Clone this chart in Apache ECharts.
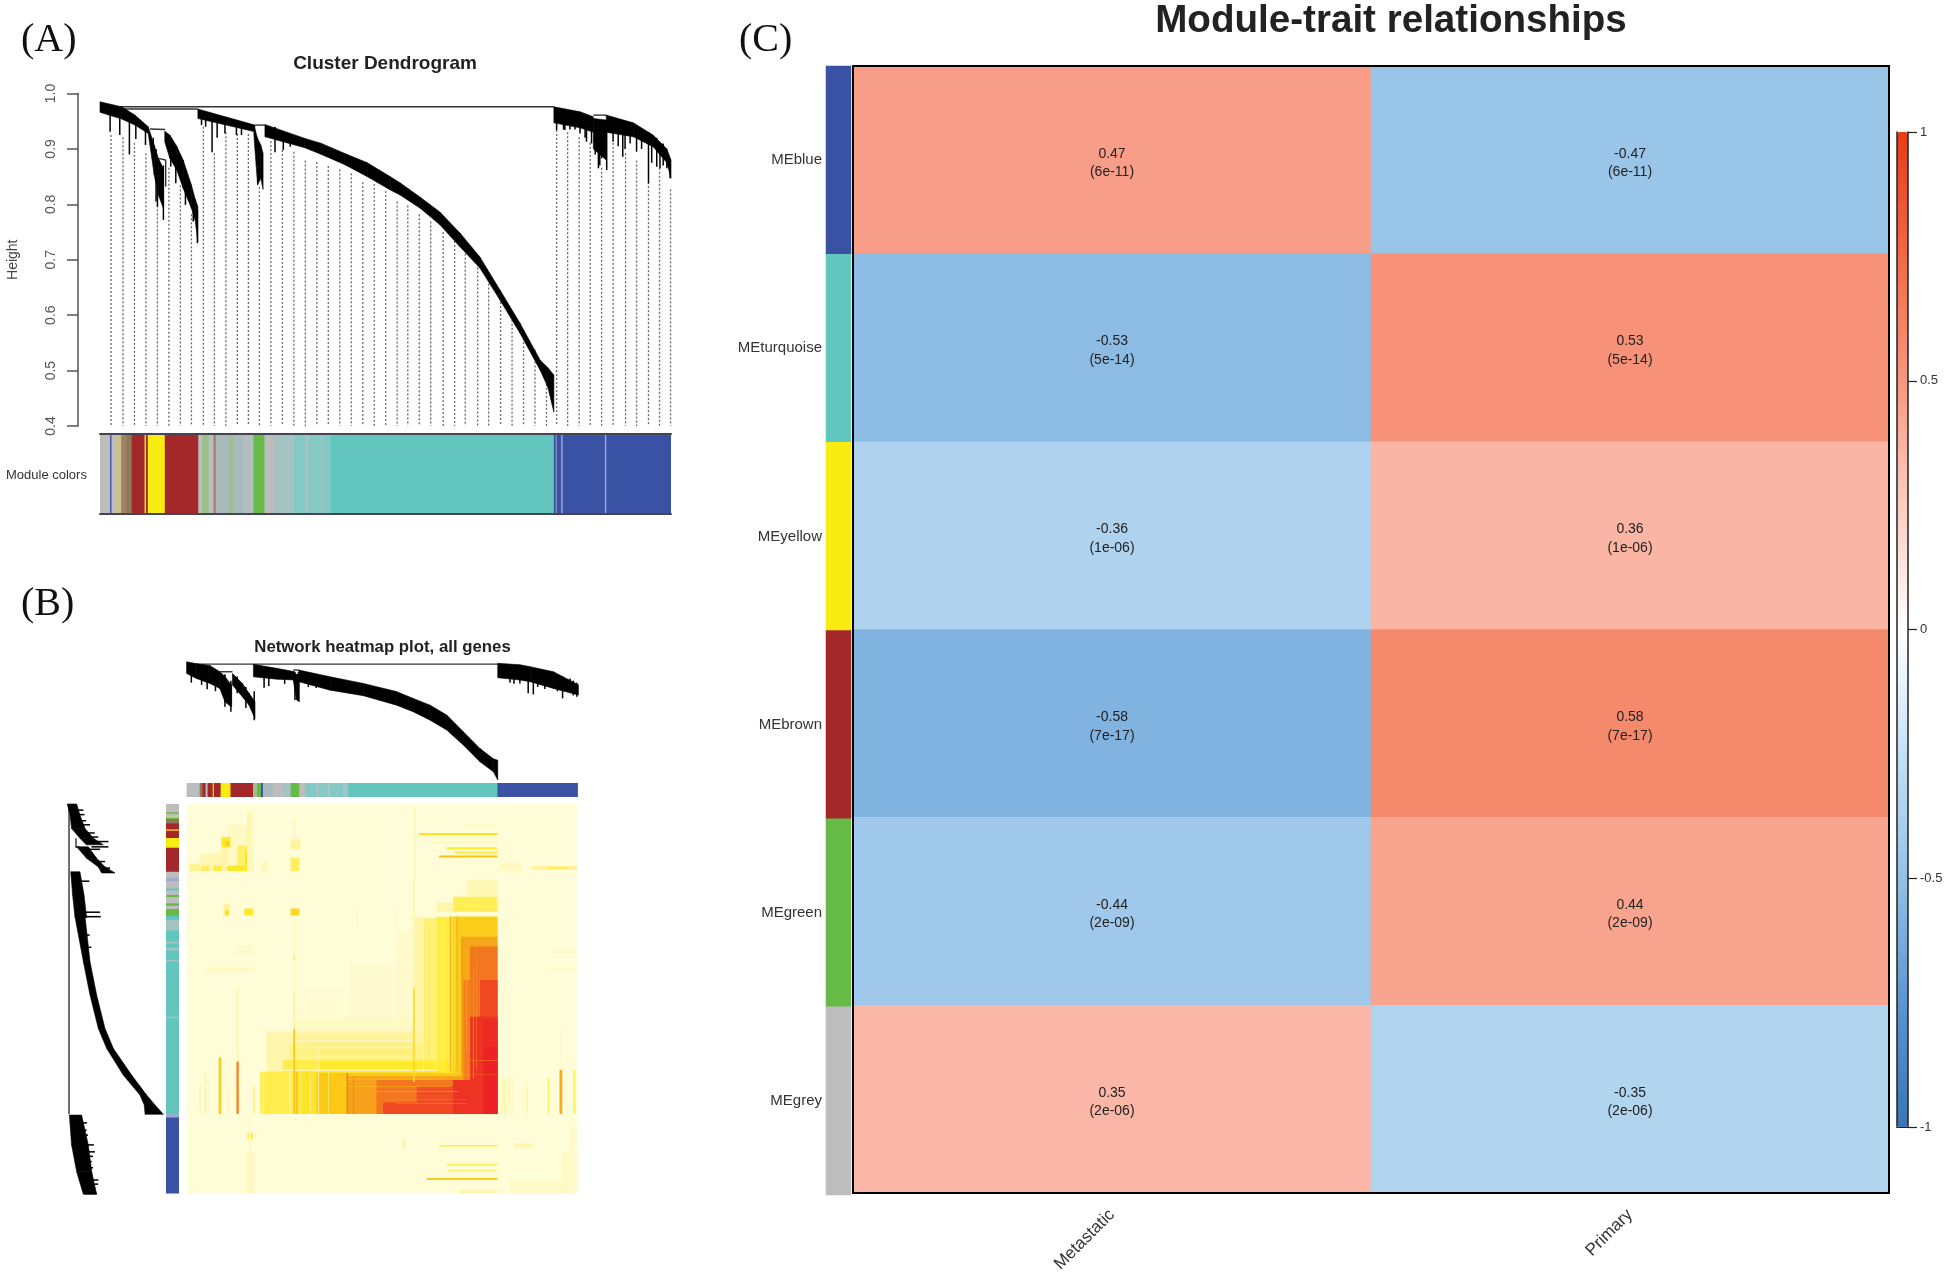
<!DOCTYPE html>
<html><head><meta charset="utf-8">
<style>html,body{margin:0;padding:0;background:#fff}#c{width:1950px;height:1275px}</style>
<script src="https://cdn.jsdelivr.net/npm/echarts@6/dist/echarts.min.js"></script>
</head><body><div id="c"></div>
<script>
// ---------- (C) module-trait table ----------
const modules = ['MEblue','MEturquoise','MEyellow','MEbrown','MEgreen','MEgrey'];
const moduleColorKeys = ['blue','turquoise','yellow','brown','green','grey'];
const traits = ['Metastatic','Primary'];
const metastaticCor = [0.47,-0.53,-0.36,-0.58,-0.44,0.35];
const primaryCor = [-0.47,0.53,0.36,0.58,0.44,-0.35];
const pValues = ['6e-11','5e-14','1e-06','7e-17','2e-09','2e-06'];
const palette = {grey:'#BDBDBD',blue:'#3A52A4',turquoise:'#63C6BE',yellow:'#F8EC13',brown:'#A4272A',green:'#65BB46',
  mixA:'#C9C28A',mixB:'#A8806A',mixC:'#8A7A5A',greyGreen:'#9DBF8F',greyBlue:'#AAB9BC',greyBlue2:'#B4BEC0',
  greyTurq:'#A5C3C3',mixTurq:'#85C9C4',lightBlue:'#A0A8D0',orange:'#F0A030',white:'#FFFFFF'};

// ---------- (A) dendrogram: bands are [geneRank, topHeight, bottomHeight] ----------
const aBand1 = [[218,.985,.966],[265,.976,.954],[294,.961,.943],[323,.940,.928],[336,.907,.853],[345,.883,.817],[356,.865,.793]];
const aBand2 = [[359,.932,.913],[370,.925,.883],[385,.905,.862],[399,.880,.829],[417,.835,.793],[425,.81,.772],[431,.796,.733]];
const aBand3 = [[431,.972,.955],[555,.943,.931]];
const aBand4 = [[553,.943,.925],[561,.919,.835],[568,.907,.847],[573,.892,.827]];
const aBand5 = [[577,.944,.922],[664,.919,.902],[700,.91,.89],[750,.892,.872],[800,.875,.85],[850,.85,.826],[871,.839,.817],[915,.813,.793],[958,.786,.763],[1002,.748,.723],[1045,.705,.685],[1089,.645,.627],[1132,.586,.568],[1176,.519,.501],[1193,.505,.470],[1206,.492,.425]];
const aBand6 = [[1206,.976,.947],[1263,.967,.938],[1292,.958,.93]];
const aBand6b = [[1292,.955,.90],[1320,.952,.88]];
const aBand7 = [[1320,.961,.93],[1379,.947,.922],[1422,.925,.904],[1452,.90,.875],[1461,.88,.847]];
const aSpikes = [[240,.98,.931],[261,.97,.925],[282,.96,.89],[296,.95,.918],[317,.94,.907],[334,.92,.883],[340,.9,.805],[343,.88,.796],[356,.87,.772],[372,.9,.868],[383,.89,.838],[404,.85,.799],[421,.81,.769],[430,.79,.730],[439,.96,.943],[448,.96,.94],[462,.955,.894],[473,.95,.92],[490,.95,.928],[515,.945,.925],[526,.94,.925],[599,.94,.894],[617,.93,.898],[632,.92,.904],[1212,.97,.934],[1227,.965,.935],[1230,.965,.934],[1241,.965,.935],[1252,.96,.935],[1263,.96,.928],[1274,.95,.92],[1277,.95,.913],[1288,.95,.91],[1296,.94,.89],[1303,.94,.865],[1306,.94,.87],[1310,.94,.883],[1315,.94,.90],[1321,.95,.862],[1335,.95,.913],[1346,.95,.905],[1356,.95,.886],[1361,.945,.90],[1372,.94,.91],[1386,.94,.895],[1397,.93,.90],[1412,.93,.838],[1419,.92,.875],[1430,.92,.868],[1437,.91,.865],[1444,.91,.87],[1452,.89,.865],[1459,.88,.847]];
const aLinks = [[261,.976,1206,.976],[265,.972,431,.972],[327,.936,360,.935],[345,.883,361,.880],[361,.880,361,.832],[555,.943,577,.943],[1292,.961,1320,.961]];
const aGuideRank = [242,268,293,318,343,368,393,417,443,467,492,517,541,565,590,615,640,665,690,715,740,765,790,815,840,865,888,913,938,965,990,1013,1040,1064,1090,1115,1140,1165,1190,1212,1236,1261,1285,1310,1335,1362,1386,1412,1436,1460];
const aGuideTop = [.925,.921,.911,.892,.798,.866,.834,.782,.940,.892,.930,.927,.927,.831,.914,.898,.895,.879,.876,.869,.863,.856,.840,.837,.824,.805,.798,.782,.769,.750,.734,.711,.686,.657,.631,.599,.573,.538,.505,.934,.930,.921,.911,.866,.911,.892,.879,.840,.866,.827];
const heightTicks = {min:.4,max:1,step:.1};
const aColorRuns = [[218,240,'grey'],[240,243,'blue'],[243,252,'grey'],[252,264,'mixA'],[264,275,'mixB'],[275,287,'mixC'],[287,315,'brown'],[315,318,'yellow'],[318,322,'brown'],[322,359,'yellow'],[359,432,'brown'],[432,440,'grey'],[440,455,'greyGreen'],[455,465,'grey'],[465,470,'mixB'],[470,500,'greyBlue'],[500,508,'greyGreen'],[508,530,'greyBlue'],[530,552,'greyBlue2'],[552,576,'green'],[576,598,'grey'],[598,640,'greyTurq'],[640,665,'mixTurq'],[665,672,'greyTurq'],[672,700,'mixTurq'],[700,703,'greyTurq'],[703,720,'mixTurq'],[720,1206,'turquoise'],[1206,1210,'blue'],[1210,1212,'lightBlue'],[1212,1222,'blue'],[1222,1225,'lightBlue'],[1225,1317,'blue'],[1317,1320,'lightBlue'],[1320,1461,'blue']];

// ---------- (B) top dendrogram ----------
const bTop1 = [[472,.989,.934],[497,.98,.91],[531,.971,.887],[556,.942,.863],[569,.92,.80],[582,.887,.78],[586,.88,.777]];
const bTop2 = [[588,.934,.879],[613,.887,.824],[630,.84,.784],[645,.80,.72]];
const bTop3 = [[641,.977,.918],[700,.958,.907],[746,.942,.903]];
const bTop4 = [[742,.94,.90],[750,.93,.81],[757,.93,.80]];
const bTop5 = [[756,.95,.895],[835,.918,.855],[919,.887,.829],[1003,.848,.784],[1045,.816,.753],[1088,.784,.713],[1130,.737,.666],[1172,.658,.595],[1214,.579,.516],[1248,.53,.469],[1259,.524,.43]];
const bTop6 = [[1259,.982,.914],[1315,.975,.903],[1341,.966,.895],[1400,.942,.863],[1463,.88,.832]];
const bTopSpikes = [[484,.97,.89],[510,.96,.88],[524,.95,.859],[545,.95,.85],[569,.93,.777],[584,.9,.753],[600,.92,.84],[622,.87,.77],[643,.85,.713],[668,.93,.866],[680,.93,.875],[720,.93,.885],[746,.94,.808],[755,.94,.803],[780,.93,.87],[800,.92,.865],[1290,.96,.89],[1300,.96,.885],[1315,.95,.887],[1336,.95,.84],[1349,.95,.835],[1360,.95,.87],[1378,.94,.86],[1410,.93,.85],[1423,.92,.816],[1442,.91,.848],[1450,.9,.83],[1459,.89,.824]];
const bTopLinks = [[472,.978,1259,.978],[556,.942,588,.942],[742,.95,757,.95]];

// ---------- (B) left dendrogram: bands are [geneRank, highHeight, lowHeight] ----------
const bLeft1 = [[549,.991,.936],[576,.975,.917],[609,.966,.887],[633,.917,.838],[649,.88,.78]];
const bLeft2 = [[654,.936,.868],[682,.878,.819],[703,.809,.77],[718,.79,.711]];
const bLeft3 = [[715,.971,.917],[772,.96,.893],[827,.946,.878]];
const bLeft4 = [[825,.946,.887],[935,.897,.858],[1017,.858,.819],[1099,.809,.77],[1148,.76,.721],[1213,.663,.614],[1262,.565,.526],[1286,.54,.477],[1309,.535,.428]];
const bLeft5 = [[1311,.979,.907],[1384,.966,.868],[1450,.936,.848],[1505,.897,.819]];
const bLeftSpikes = [[564,.97,.897],[575,.97,.89],[590,.96,.88],[600,.95,.858],[620,.94,.83],[630,.91,.81],[641,.86,.75],[654,.85,.75],[660,.88,.80],[690,.83,.77],[706,.80,.74],[738,.95,.862],[814,.93,.799],[825,.93,.795],[870,.9,.86],[900,.88,.85],[1330,.96,.875],[1348,.95,.878],[1360,.95,.87],[1384,.93,.835],[1401,.93,.829],[1412,.92,.84],[1425,.92,.848],[1440,.92,.84],[1470,.92,.809],[1480,.91,.81],[1503,.89,.819]];
const bLeftLinks = [[.981,549,.981,1309],[.940,633,.940,656],[.94,654,.92,654]];

const bTopRuns = [[472,505,'grey'],[505,512,'mixC'],[512,520,'brown'],[520,525,'grey'],[525,538,'brown'],[538,541,'yellow'],[541,558,'brown'],[558,583,'yellow'],[583,640,'brown'],[640,650,'greyGreen'],[650,660,'green'],[660,665,'blue'],[665,690,'greyBlue'],[690,715,'grey'],[715,735,'greyTurq'],[735,757,'green'],[757,772,'grey'],[772,800,'mixTurq'],[800,806,'greyTurq'],[806,830,'mixTurq'],[830,836,'greyTurq'],[836,868,'mixTurq'],[868,880,'greyTurq'],[880,1258,'turquoise'],[1258,1270,'blue'],[1270,1460,'blue']];
const bLeftRuns = [[547,569,'grey'],[569,573,'green'],[573,579,'grey'],[579,583,'mixA'],[583,586,'green'],[586,596,'mixC'],[596,611,'brown'],[611,615,'orange'],[615,632,'brown'],[632,656,'yellow'],[656,715,'brown'],[715,731,'grey'],[731,738,'lightBlue'],[738,756,'grey'],[756,761,'turquoise'],[761,772,'grey'],[772,777,'green'],[777,792,'grey'],[792,798,'green'],[798,806,'grey'],[806,823,'green'],[823,833,'turquoise'],[833,858,'greyTurq'],[858,886,'turquoise'],[886,890,'greyTurq'],[890,901,'turquoise'],[901,907,'greyTurq'],[907,931,'turquoise'],[931,934,'greyTurq'],[934,1070,'turquoise'],[1070,1074,'greyTurq'],[1074,1309,'turquoise'],[1309,1317,'lightBlue'],[1317,1503,'blue']];

// ---------- (B) network heatmap, painted in order: [x0,x1,y0,y1,overlap] ----------
const tomBlocks = [
 [472,1460,549,1503,.005],
 // brown / yellow module corner
 [480,640,695,713,.18],[505,640,670,713,.1],[560,640,630,713,.12],[575,640,600,713,.06],[600,640,650,713,.24],[620,640,665,713,.36],[630,640,690,713,.5],[634,640,700,713,.66],[560,583,630,655,.34],[570,580,640,652,.44],[510,530,700,713,.26],[540,560,700,713,.3],[575,625,700,713,.34],
 [625,640,570,713,.07],[625,630,570,640,.16],[735,760,635,660,.16],[735,757,680,713,.26],[742,748,590,640,.06],[565,582,795,822,.18],[570,578,810,822,.42],[618,640,805,822,.34],[735,757,805,822,.42],[660,680,690,712,.08],
 [1060,1258,620,625,.36],[1130,1258,655,660,.33],[1150,1258,665,672,.26],[1110,1258,675,680,.48],[1090,1258,640,645,.08],[1170,1258,600,606,.06],[1040,1258,625,633,.04],
 [1345,1460,700,710,.16],[1265,1320,695,712,.07],[1385,1440,703,708,.26],
 [1048,1052,560,735,.1],[742,746,830,1004,.07],[742,747,920,930,.22],[595,640,895,915,.04],[520,640,950,958,.07],[1380,1460,950,956,.05],[1390,1460,910,915,.04],[900,904,800,850,.05],[1000,1004,800,860,.05],
 // turquoise module: nested corner layers, weakest first
 [742,1258,1004,1308,.02],[885,1258,939,1308,.025],[1000,1258,860,1308,.04],
 [742,1258,1074,1308,.06],[1180,1258,735,776,.1],[1104,1258,790,813,.12],[1045,1258,825,1308,.13],[674,1258,1106,1308,.12],[742,1258,1110,1308,.16],[733,1258,1135,1308,.2],
 [1070,1258,830,1308,.22],[1146,1258,776,813,.27],[716,1258,1176,1308,.28],[657,1258,1204,1308,.28],[1104,1258,825,1308,.3],
 [801,1258,1180,1308,.33],[1138,1258,825,1308,.36],[742,1258,1204,1308,.36],
 [1146,1258,825,1308,.44],[801,1258,1208,1308,.46],[1167,1258,874,1308,.58],[877,1258,1216,1308,.6],[1172,1258,980,1308,.7],[952,1258,1225,1308,.72],[1189,1258,898,1308,.72],[1054,1258,1240,1308,.82],[969,1258,1280,1308,.84],[1214,1258,980,1308,.84],[1146,1258,1225,1308,.92],[1189,1258,1070,1308,.92],[1222,1258,1078,1308,.95],[1222,1258,1143,1308,.98],
 // fine stripes across the corner
 [742,1045,1127,1129,.06],[742,1045,1143,1145,.08],[742,1045,1168,1170,.1],[716,1104,1200,1203,.08],[805,1045,1155,1157,.3],[742,1045,1120,1121,.22],[770,1045,1136,1137,.3],
 [1104,1106,830,1204,.2],[1120,1122,830,1204,.22],[1070,1072,830,1204,.12],[1085,1087,850,1204,.32],[1150,1151,830,1200,.2],[1180,1181,900,1150,.5],[1196,1198,950,1220,.62],[1205,1206,900,1200,.6],
 [657,659,1204,1308,.14],[666,668,1204,1308,.12],[733,735,1204,1308,.12],[758,760,1204,1308,.16],[784,786,1208,1308,.18],[805,807,1143,1308,.1],[830,832,1208,1308,.24],[742,746,1004,1100,.14],[742,746,1100,1308,.48],[750,752,1204,1308,.58],[877,880,1208,1308,.72],[893,895,1216,1308,.7],[1045,1049,735,1000,.13],[1045,1049,1000,1230,.4],[1138,1140,825,1204,.62],[1155,1157,825,1204,.6],[1167,1169,874,1208,.66],
 [880,1120,1222,1223,.4],[880,1140,1240,1241,.48],[950,1160,1252,1253,.55],[980,1180,1272,1273,.62],[1000,1180,1282,1283,.66],[1160,1258,1212,1213,.6],[1172,1258,1176,1177,.65],
 // columns outside the module
 [598,604,1000,1180,.08],[598,604,1180,1308,.68],[553,560,1170,1308,.44],[518,522,1210,1308,.16],[505,509,1240,1308,.1],[640,645,1240,1308,.18],[528,531,1230,1308,.1],[575,578,1250,1308,.1],
 [1415,1422,1200,1308,.56],[1418,1420,1100,1200,.08],[1385,1390,1220,1308,.24],[1450,1455,1200,1308,.26],[1265,1300,1220,1308,.05],[1275,1279,1220,1308,.16],[1330,1335,1240,1308,.1],
 // blue module
 [1290,1460,1470,1503,.05],[1420,1460,1400,1503,.06],[1440,1460,1340,1503,.04],[1130,1258,1430,1435,.24],[1130,1258,1445,1449,.2],[1080,1258,1465,1470,.44],[1110,1258,1385,1388,.32],[1160,1258,1495,1503,.12],[1020,1025,1370,1395,.15],[1300,1350,1380,1390,.11],[625,640,1355,1370,.28],[625,640,1400,1503,.08],[630,634,1314,1500,.06]
];

// ---------- helpers ----------
const ramp = ['#FFFCDA','#FFF49A','#FFEA2A','#FBBF14','#F58B1F','#EF4A22','#ED1C24'];
function runs(rows, g, horizontal){
  return {type:'custom',xAxisIndex:g,yAxisIndex:g,silent:true,animation:false,clip:true,data:rows.map(r=>[r[0],r[1]]),
    renderItem(p,api){
      const s=api.value(0),e=api.value(1);
      const a=horizontal?api.coord([s,0]):api.coord([0,s]);
      const b=horizontal?api.coord([e,1]):api.coord([1,e]);
      return {type:'rect',shape:{x:Math.min(a[0],b[0]),y:Math.min(a[1],b[1]),width:Math.abs(b[0]-a[0])+.6,height:Math.abs(b[1]-a[1])+.6},style:{fill:palette[rows[p.dataIndex][2]]}};
    }};
}
function band(rows,g,swap){
  return {type:'custom',xAxisIndex:g,yAxisIndex:g,silent:true,animation:false,clip:false,data:rows,
    renderItem(p,api){
      const i=p.dataIndex; if(i>=rows.length-1) return;
      const [x0,t0,b0]=rows[i],[x1,t1,b1]=rows[i+1];
      const c=(r,h)=>swap?api.coord([h,r]):api.coord([r,h]);
      return {type:'polygon',shape:{points:[c(x0,t0),c(x1,t1),c(x1,b1),c(x0,b0)]},style:{fill:'#000',stroke:'#000',lineWidth:.6}};
    }};
}
function segs(rows,g,style){
  return {type:'custom',xAxisIndex:g,yAxisIndex:g,silent:true,animation:false,clip:false,data:rows,
    renderItem(p,api){
      const a=api.coord([api.value(0),api.value(1)]),b=api.coord([api.value(2),api.value(3)]);
      return {type:'line',shape:{x1:a[0],y1:a[1],x2:b[0],y2:b[1]},style:Object.assign({fill:null},style)};
    }};
}
const vSpikes = s=>s.map(r=>[r[0],r[1],r[0],r[2]]);
const hSpikes = s=>s.map(r=>[r[1],r[0],r[2],r[0]]);
const inkThin={stroke:'#000',lineWidth:1.5};
const linkStyle={stroke:'#333',lineWidth:1.4};

const rowCount=modules.length;
const heat=[]; for(let r=0;r<rowCount;r++){heat.push([0,r,metastaticCor[r]]);heat.push([1,r,primaryCor[r]]);}
const stripData=moduleColorKeys.map((k,r)=>({value:[0,r,1],itemStyle:{color:palette[k]}}));

const grid=[
 {left:100,top:93.5,width:571,height:332.5},
 {left:100,top:434,width:571,height:80},
 {left:186.6,top:661.6,width:391.4,height:118.4},
 {left:186.6,top:783,width:390.7,height:14},
 {left:68,top:804,width:95,height:389.5},
 {left:166,top:804,width:13,height:389.5},
 {left:186.6,top:804,width:390.7,height:389.5},
 {left:826,top:66,width:25,height:1129},
 {left:853,top:66,width:1036,height:1129},
 {left:1897,top:132,width:11,height:995}
];
const hide={show:false};
const hv=(min,max,inverse)=>({type:'value',min,max,inverse:!!inverse,show:false,gridIndex:0});
const xAxis=[
 Object.assign(hv(218,1461),{gridIndex:0}),
 Object.assign(hv(218,1461),{gridIndex:1}),
 Object.assign(hv(472,1462),{gridIndex:2}),
 Object.assign(hv(472,1460),{gridIndex:3}),
 Object.assign(hv(.43,.987,true),{gridIndex:4}),
 Object.assign(hv(0,1),{gridIndex:5}),
 Object.assign(hv(472,1460),{gridIndex:6}),
 {type:'category',gridIndex:7,data:[''],show:false},
 {type:'category',gridIndex:8,data:traits,z:8,axisTick:hide,axisLine:{show:true,lineStyle:{color:'#000',width:2}},
   axisLabel:{rotate:45,margin:19,fontSize:17,color:'#333',fontFamily:'Liberation Sans'}},
 {type:'value',gridIndex:9,min:0,max:1,show:true,z:8,axisTick:hide,axisLabel:hide,splitLine:hide,axisLine:{show:true,onZero:false,lineStyle:{color:'#222',width:1}}},
 {type:'value',gridIndex:1,min:0,max:1,position:'top',z:8,axisTick:hide,axisLabel:hide,splitLine:hide,axisLine:{show:true,onZero:false,lineStyle:{color:'#445',width:2}}},
 {type:'value',gridIndex:1,min:0,max:1,position:'bottom',z:8,axisTick:hide,axisLabel:hide,splitLine:hide,axisLine:{show:true,onZero:false,lineStyle:{color:'#445',width:2}}},
 {type:'category',gridIndex:8,data:traits,position:'top',z:8,axisTick:hide,axisLabel:hide,axisLine:{show:true,lineStyle:{color:'#000',width:2}}}
];
const yAxis=[
 {type:'value',gridIndex:0,min:heightTicks.min,max:heightTicks.max,interval:heightTicks.step,offset:22,position:'left',
   name:'Height',nameLocation:'middle',nameRotate:90,nameGap:58,nameTextStyle:{fontSize:14,color:'#444',fontFamily:'Liberation Sans'},
   splitLine:hide,axisLine:{show:true,onZero:false,lineStyle:{color:'#555',width:1.5}},axisTick:{show:true,length:11,lineStyle:{color:'#555',width:1.5}},
   axisLabel:{rotate:90,margin:20,fontSize:14,color:'#555',fontFamily:'Liberation Sans',formatter:v=>v.toFixed(1)}},
 Object.assign(hv(0,1),{gridIndex:1}),
 Object.assign(hv(.43,.99),{gridIndex:2}),
 Object.assign(hv(0,1),{gridIndex:3}),
 Object.assign(hv(549,1503,true),{gridIndex:4}),
 Object.assign(hv(549,1503,true),{gridIndex:5}),
 Object.assign(hv(549,1503,true),{gridIndex:6}),
 {type:'category',gridIndex:7,data:modules,inverse:true,axisTick:hide,axisLine:hide,
   axisLabel:{margin:4,fontSize:15,color:'#333',fontFamily:'Liberation Sans',padding:[3,0,0,0]}},
 {type:'category',gridIndex:8,data:modules,inverse:true,z:8,axisTick:hide,axisLabel:hide,axisLine:{show:true,lineStyle:{color:'#000',width:2}}},
 {type:'value',gridIndex:9,min:-1,max:1,interval:.5,position:'right',z:8,splitLine:hide,
   axisLine:{show:true,onZero:false,lineStyle:{color:'#222',width:1.5}},axisTick:{show:true,length:9,lineStyle:{color:'#222',width:1.2}},
   axisLabel:{margin:12,fontSize:13,color:'#333',fontFamily:'Liberation Sans'}},
 {type:'value',gridIndex:9,min:-1,max:1,position:'left',z:8,splitLine:hide,axisTick:hide,axisLabel:hide,
   axisLine:{show:true,onZero:false,lineStyle:{color:'#222',width:1.5}}},
 {type:'category',gridIndex:8,data:modules,inverse:true,position:'right',z:8,axisTick:hide,axisLabel:hide,axisLine:{show:true,lineStyle:{color:'#000',width:2}}}
];
const series=[
 segs(aGuideRank.map((r,i)=>[r,aGuideTop[i],r,heightTicks.min]),0,{stroke:'#666',lineWidth:1.3,lineDash:[2,2]}),
 segs(aLinks,0,linkStyle),
 ...[aBand1,aBand2,aBand3,aBand4,aBand5,aBand6,aBand6b,aBand7].map(b=>band(b,0,false)),
 segs(vSpikes(aSpikes),0,inkThin),
 runs(aColorRuns,1,true),
 segs(bTopLinks,2,linkStyle),
 ...[bTop1,bTop2,bTop3,bTop4,bTop5,bTop6].map(b=>band(b,2,false)),
 segs(vSpikes(bTopSpikes),2,inkThin),
 runs(bTopRuns,3,true),
 segs(bLeftLinks,4,linkStyle),
 ...[bLeft1,bLeft2,bLeft3,bLeft4,bLeft5].map(b=>band(b,4,true)),
 segs(hSpikes(bLeftSpikes),4,inkThin),
 runs(bLeftRuns,5,false),
 {type:'custom',xAxisIndex:6,yAxisIndex:6,silent:true,animation:false,data:tomBlocks,
   renderItem(p,api){
     const a=api.coord([api.value(0),api.value(2)]),b=api.coord([api.value(1),api.value(3)]);
     return {type:'rect',shape:{x:a[0],y:a[1],width:b[0]-a[0],height:b[1]-a[1]},style:{fill:echarts.color.lerp(api.value(4),ramp)}};
   }},
 {type:'heatmap',xAxisIndex:7,yAxisIndex:7,silent:true,animation:false,data:stripData},
 {type:'heatmap',xAxisIndex:8,yAxisIndex:8,silent:true,animation:false,data:heat,emphasis:{disabled:true},
   label:{show:true,color:'#222',fontSize:14,lineHeight:18.5,offset:[0,3],fontFamily:'Liberation Sans',
     formatter:p=>p.value[2]+'\n('+pValues[p.value[1]]+')'}}
];
const corSeriesIndex=series.length-1;
const title=[
 {text:'(A)',left:16,top:15,textStyle:{fontFamily:'Liberation Serif',fontWeight:'normal',fontSize:40,color:'#111'}},
 {text:'(B)',left:16,top:579,textStyle:{fontFamily:'Liberation Serif',fontWeight:'normal',fontSize:40,color:'#111'}},
 {text:'(C)',left:734,top:15,textStyle:{fontFamily:'Liberation Serif',fontWeight:'normal',fontSize:40,color:'#111'}},
 {text:'Cluster Dendrogram',left:380,textAlign:'center',top:49,textStyle:{fontFamily:'Liberation Sans',fontWeight:'bold',fontSize:19,color:'#222'}},
 {text:'Network heatmap plot, all genes',left:377.5,textAlign:'center',top:634,textStyle:{fontFamily:'Liberation Sans',fontWeight:'bold',fontSize:16.8,color:'#222'}},
 {text:'Module-trait relationships',left:1386,textAlign:'center',top:-3,textStyle:{fontFamily:'Liberation Sans',fontWeight:'bold',fontSize:38.6,color:'#222'}},
 {text:'Module colors',left:1,top:464,textStyle:{fontFamily:'Liberation Sans',fontWeight:'normal',fontSize:13,color:'#333'}}
];
const chart=echarts.init(document.getElementById('c'),null,{renderer:'canvas'});
chart.setOption({animation:false,backgroundColor:'#fff',title,grid,xAxis,yAxis,series,
 visualMap:[{type:'continuous',min:-1,max:1,seriesIndex:corSeriesIndex,dimension:2,calculable:false,realtime:false,orient:'vertical',
   left:1897,top:132,itemWidth:11,itemHeight:995,padding:0,silent:true,hoverLink:false,showLabel:false,
   inRange:{color:['#3A75B5','#5C96D0','#93C1E7','#C5E0F5','#FFFFFF','#FBCDC1','#F8977F','#F06A45','#E73C18']}}]
});
</script></body></html>
